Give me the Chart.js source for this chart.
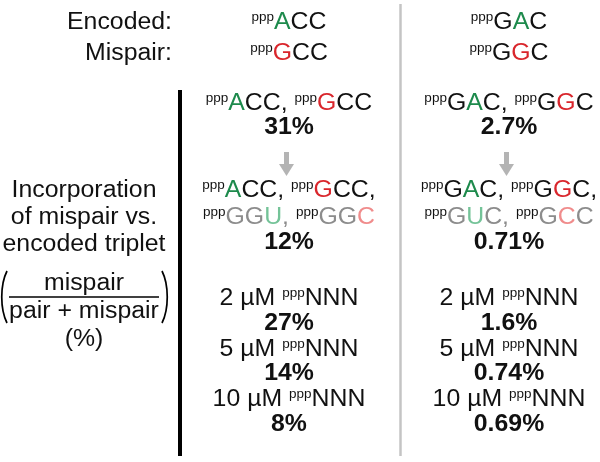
<!DOCTYPE html>
<html>
<head>
<meta charset="utf-8">
<script src="https://cdn.jsdelivr.net/npm/chart.js@4.4.1/dist/chart.umd.min.js"></script>
<style>
  html, body { margin: 0; padding: 0; background: #ffffff; }
  #wrap { width: 600px; height: 462px; }
</style>
</head>
<body>
<div id="wrap"><canvas id="c" width="600" height="462"></canvas></div>
<script>
// ---------------- DATA ----------------
const rowLabels = ['Encoded:', 'Mispair:'];
const encodedTriplets = ['ACC', 'GAC'];
const mispairTriplets = ['GCC', 'GGC'];
const variablePos = [0, 1];                 // index of the encoded/mispaired base
const contextTriplets = [['GGU', 'GGC'], ['GUC', 'GCC']];
const contextPos = [2, 1];                  // index of the highlighted base in context triplets
const pairPct = [31, 2.7];                  // encoded + mispair only
const contextPct = [12, 0.71];              // with competing context triplets
const concentrations = [2, 5, 10];          // µM pppNNN
const concPct = [[27, 14, 8], [1.6, 0.74, 0.69]];
const yLabelLines = ['Incorporation', 'of mispair vs.', 'encoded triplet'];
const fracTop = 'mispair';
const fracBottom = 'pair + mispair';
const fracUnit = '(%)';

// ---------------- LAYOUT / STYLE ----------------
const FONT = '"Liberation Sans", Arial, Helvetica, sans-serif';
const FS = 23, SUP = 12.5, SX = 1.08;
const C_BLACK = '#111111', C_GREEN = '#1d8a4c', C_RED = '#d9262c';
const C_GRAY = '#8c8c8c', C_LGREEN = '#74c398', C_LRED = '#f08c8c';
const colX = [289, 509];
const labelRightX = 172;
const leftCenterX = 84;
const Y = {
  enc: 29, mis: 59.5, pair: 110, pairPct: 134,
  arrowTop: 152, arrowBot: 176,
  ctx1: 197, ctx2: 223.5, ctxPct: 248.5,
  conc: [305, 356, 406], concPct: [330, 380, 431],
  lab: [197, 224, 251], fracTop: 290, fracBar: 297, fracBot: 318, unit: 346
};

// points (one per reported percentage), placed through the chart scales
const pts = [];
for (let c = 0; c < 2; c++) {
  pts.push({ x: colX[c], y: Y.pairPct, v: pairPct[c] });
  pts.push({ x: colX[c], y: Y.ctxPct, v: contextPct[c] });
  for (let r = 0; r < concentrations.length; r++) pts.push({ x: colX[c], y: Y.concPct[r], v: concPct[c][r] });
}

function seg(t, color, sup, bold) { return { t, color: color || C_BLACK, sup: !!sup, bold: !!bold }; }
function tripletSegs(tri, pos, base, hi) {
  const out = [seg('ppp', C_BLACK, true)];
  for (let i = 0; i < tri.length; i++) out.push(seg(tri[i], i === pos ? hi : base));
  return out;
}
function fontOf(s) { return (s.bold ? 'bold ' : '') + (s.sup ? SUP : FS) + 'px ' + FONT; }
function drawRich(ctx, segs, x, y, align) {
  let w = 0;
  segs.forEach(s => { ctx.font = fontOf(s); s.w = ctx.measureText(s.t).width * SX; w += s.w; });
  let cx = align === 'right' ? x - w : (align === 'left' ? x : x - w / 2);
  segs.forEach(s => {
    ctx.save();
    ctx.font = fontOf(s);
    ctx.fillStyle = s.color;
    ctx.textBaseline = 'alphabetic';
    ctx.textAlign = 'left';
    ctx.translate(cx, s.sup ? y - 8 : y);
    ctx.scale(SX, 1);
    ctx.fillText(s.t, 0, 0);
    ctx.restore();
    cx += s.w;
  });
  return w;
}

const textPlugin = {
  id: 'tablePlugin',
  afterDatasetsDraw(chart) {
    const ctx = chart.ctx, xs = chart.scales.x, ys = chart.scales.y;
    const px = v => xs.getPixelForValue(v), py = v => ys.getPixelForValue(v);

    // rules
    ctx.save();
    ctx.strokeStyle = '#c4c4c4'; ctx.lineWidth = 2.5;
    ctx.beginPath(); ctx.moveTo(px(400.5), py(4)); ctx.lineTo(px(400.5), py(456)); ctx.stroke();
    ctx.strokeStyle = '#000000'; ctx.lineWidth = 4;
    ctx.beginPath(); ctx.moveTo(px(180), py(90)); ctx.lineTo(px(180), py(456)); ctx.stroke();
    ctx.restore();

    // header labels
    drawRich(ctx, [seg(rowLabels[0])], px(labelRightX), py(Y.enc), 'right');
    drawRich(ctx, [seg(rowLabels[1])], px(labelRightX), py(Y.mis), 'right');

    for (let c = 0; c < 2; c++) {
      const x = px(colX[c]);
      drawRich(ctx, tripletSegs(encodedTriplets[c], variablePos[c], C_BLACK, C_GREEN), x, py(Y.enc), 'center');
      drawRich(ctx, tripletSegs(mispairTriplets[c], variablePos[c], C_BLACK, C_RED), x, py(Y.mis), 'center');

      // pair row
      const pairRow = tripletSegs(encodedTriplets[c], variablePos[c], C_BLACK, C_GREEN)
        .concat([seg(', ')])
        .concat(tripletSegs(mispairTriplets[c], variablePos[c], C_BLACK, C_RED));
      drawRich(ctx, pairRow, x, py(Y.pair), 'center');

      // arrow
      const ax = x - 2.5;
      ctx.save();
      ctx.strokeStyle = '#b4b4b4'; ctx.fillStyle = '#b4b4b4'; ctx.lineWidth = 5;
      ctx.beginPath(); ctx.moveTo(ax, py(Y.arrowTop)); ctx.lineTo(ax, py(Y.arrowBot) - 10); ctx.stroke();
      ctx.beginPath();
      ctx.moveTo(ax - 7.5, py(Y.arrowBot) - 12);
      ctx.lineTo(ax + 7.5, py(Y.arrowBot) - 12);
      ctx.lineTo(ax, py(Y.arrowBot));
      ctx.closePath(); ctx.fill();
      ctx.restore();

      // context rows
      const ctxRow1 = tripletSegs(encodedTriplets[c], variablePos[c], C_BLACK, C_GREEN)
        .concat([seg(', ')])
        .concat(tripletSegs(mispairTriplets[c], variablePos[c], C_BLACK, C_RED))
        .concat([seg(',')]);
      drawRich(ctx, ctxRow1, x, py(Y.ctx1), 'center');
      const ctxRow2 = tripletSegs(contextTriplets[c][0], contextPos[c], C_GRAY, C_LGREEN)
        .concat([seg(', ', C_GRAY)])
        .concat(tripletSegs(contextTriplets[c][1], contextPos[c], C_GRAY, C_LRED));
      drawRich(ctx, ctxRow2, x, py(Y.ctx2), 'center');

      // concentration rows
      for (let r = 0; r < concentrations.length; r++) {
        drawRich(ctx, [seg(concentrations[r] + ' \u00b5M '), seg('ppp', C_BLACK, true), seg('NNN')], x, py(Y.conc[r]), 'center');
      }
    }

    // percentage values from the dataset points
    const meta = chart.getDatasetMeta(0);
    meta.data.forEach((el, i) => {
      drawRich(ctx, [seg(pts[i].v + '%', C_BLACK, false, true)], el.x, el.y, 'center');
    });

    // left-hand axis label
    yLabelLines.forEach((t, i) => drawRich(ctx, [seg(t)], px(leftCenterX), py(Y.lab[i]), 'center'));
    drawRich(ctx, [seg(fracTop)], px(leftCenterX), py(Y.fracTop), 'center');
    drawRich(ctx, [seg(fracBottom)], px(leftCenterX), py(Y.fracBot), 'center');
    drawRich(ctx, [seg(fracUnit)], px(leftCenterX), py(Y.unit), 'center');
    ctx.save();
    ctx.strokeStyle = '#000'; ctx.lineWidth = 1.5;
    ctx.beginPath(); ctx.moveTo(px(9), py(Y.fracBar)); ctx.lineTo(px(159), py(Y.fracBar)); ctx.stroke();
    // parentheses
    ctx.lineWidth = 1.7;
    const t = py(271), b = py(323);
    ctx.beginPath(); ctx.moveTo(px(7), t); ctx.bezierCurveTo(px(0), t + 14, px(0), b - 14, px(7), b); ctx.stroke();
    ctx.beginPath(); ctx.moveTo(px(162), t); ctx.bezierCurveTo(px(169), t + 14, px(169), b - 14, px(162), b); ctx.stroke();
    ctx.restore();
  }
};

new Chart(document.getElementById('c'), {
  type: 'scatter',
  data: { datasets: [{ data: pts.map(p => ({ x: p.x, y: p.y })), pointRadius: 0, pointHoverRadius: 0 }] },
  options: {
    responsive: false, animation: false, events: [],
    layout: { padding: 0 },
    plugins: { legend: { display: false }, tooltip: { enabled: false } },
    scales: {
      x: { type: 'linear', min: 0, max: 600, display: false },
      y: { type: 'linear', min: 0, max: 462, reverse: true, display: false }
    }
  },
  plugins: [textPlugin]
});
</script>
</body>
</html>
